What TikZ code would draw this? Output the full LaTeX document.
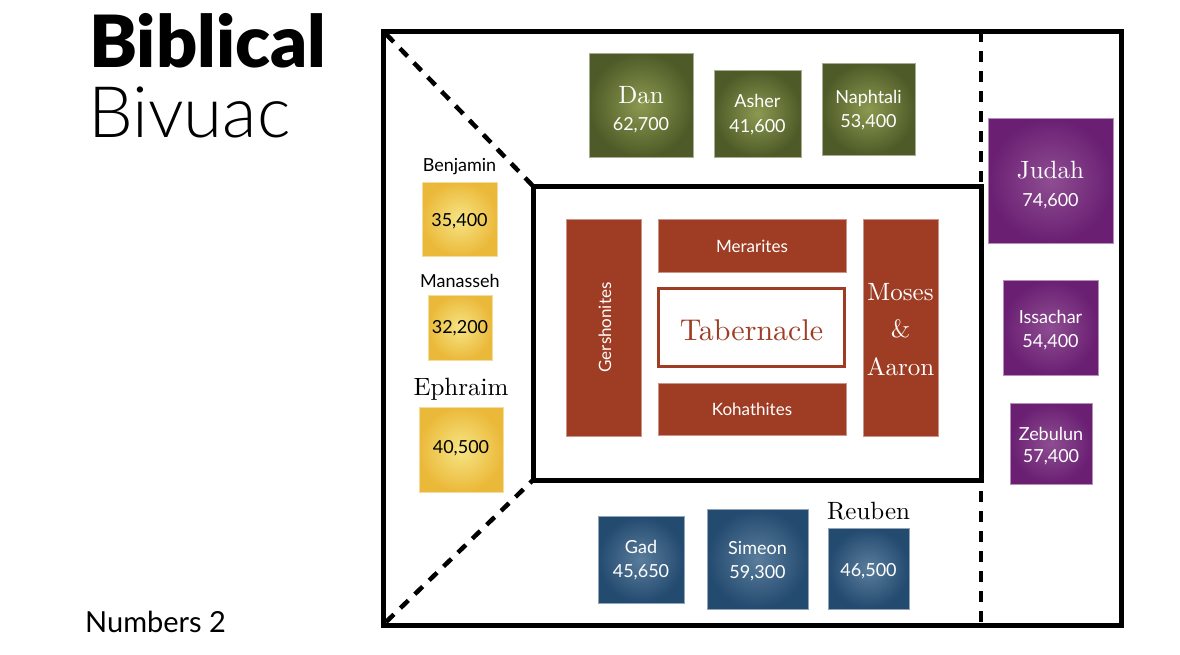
\documentclass[tikz,border=0pt]{standalone}
\usepackage{fontspec}
\newfontfamily\lato{Lato}
\newfontfamily\latoblack{Lato Black}
\newfontfamily\latolight{Lato Light}
\newfontfamily\cmten{lmroman10-regular}[Extension=.otf]
\definecolor{greenin}{HTML}{8A9A50}
\definecolor{greenout}{HTML}{4E5B28}
\definecolor{purplein}{HTML}{8E4E92}
\definecolor{purpleout}{HTML}{6A1F72}
\definecolor{bluein}{HTML}{5A7D9C}
\definecolor{blueout}{HTML}{234A6F}
\definecolor{yellowin}{HTML}{F6E585}
\definecolor{yellowout}{HTML}{EBB93A}
\definecolor{levbrown}{HTML}{9E3D24}
\begin{document}
\begin{tikzpicture}[x=1pt,y=-1pt,
  tribe/.style={shade, inner color=#1in, outer color=#1out, draw=#1out!50!white, line width=0.8pt, inner sep=0pt, outer sep=0pt},
  levite/.style={fill=levbrown, draw=levbrown!55!white, line width=0.8pt, inner sep=0pt, outer sep=0pt},
  wsans/.style={text=white, font=\lato\fontsize{18}{20}\selectfont, anchor=base, inner sep=0pt},
  bsans/.style={text=black, font=\lato\fontsize{18}{20}\selectfont, anchor=base, inner sep=0pt},
  wser/.style={text=white, font=\cmten\fontsize{25}{28}\selectfont, anchor=base, inner sep=0pt},
  bser/.style={text=black, font=\cmten\fontsize{25}{28}\selectfont, anchor=base, inner sep=0pt},
  frameline/.style={line width=5pt, draw=black},
  dashline/.style={line width=4.5pt, draw=black, dash pattern=on 11pt off 9pt}
]
\useasboundingbox (0,0) rectangle (1180,654);

% title
\node[anchor=base west, inner sep=0pt, font=\latoblack\fontsize{72}{74}\selectfont] (title1) at (89,67) {Biblical};
\node[anchor=base west, inner sep=0pt, font=\latolight\fontsize{71}{74}\selectfont] (title2) at (88,137) {Bivuac};
\node[anchor=base west, inner sep=0pt, font=\lato\fontsize{29}{30}\selectfont] (ref) at (85,632) {Numbers 2};

% frame coordinates
\coordinate (oTL) at (383,31);
\coordinate (oBR) at (1121,625);
\coordinate (oBL) at (383,625);
\coordinate (iTL) at (533,186);
\coordinate (iBR) at (981,480);
\coordinate (iBL) at (533,480);
\coordinate (vT) at (981,31);
\coordinate (vB) at (981,625);

\draw[frameline] (oTL) rectangle (oBR);
\draw[frameline] (iTL) rectangle (iBR);
\draw[dashline] ([shift={(3,3)}]oTL) -- (iTL);
\draw[dashline] ([shift={(3,-3)}]oBL) -- (iBL);
\draw[dashline] (vT) -- (vB);

% north: Dan
\node[tribe=green, minimum width=104pt, minimum height=104pt] (dan) at (641,105) {};
\node[wser] (danN) at (641,103) {Dan};
\node[wsans] (danV) at (641,130) {62,700};
\node[tribe=green, minimum width=87pt, minimum height=87pt] (asher) at (757.5,113.5) {};
\node[wsans] (asherN) at (757.5,107) {Asher};
\node[wsans] (asherV) at (757.5,132) {41,600};
\node[tribe=green, minimum width=93pt, minimum height=92pt] (naph) at (868.5,109) {};
\node[wsans] (naphN) at (868.5,103) {Naphtali};
\node[wsans] (naphV) at (868.5,127) {53,400};

% east: Judah
\node[tribe=purple, minimum width=125pt, minimum height=125pt] (judah) at (1050.5,180.5) {};
\node[wser] (judahN) at (1050.5,178) {Judah};
\node[wsans] (judahV) at (1050.5,206) {74,600};
\node[tribe=purple, minimum width=95pt, minimum height=95pt] (issa) at (1050.5,327.5) {};
\node[wsans] (issaN) at (1050.5,323) {Issachar};
\node[wsans] (issaV) at (1050.5,347) {54,400};
\node[tribe=purple, minimum width=82pt, minimum height=81pt] (zeb) at (1051,443.5) {};
\node[wsans] (zebN) at (1051,440) {Zebulun};
\node[wsans] (zebV) at (1051,462) {57,400};

% west: Ephraim
\node[bsans] (benN) at (459.5,171) {Benjamin};
\node[tribe=yellow, minimum width=75pt, minimum height=74pt] (ben) at (459.5,219) {};
\node[bsans] (benV) at (459.5,226) {35,400};
\node[bsans] (manN) at (460,287) {Manasseh};
\node[tribe=yellow, minimum width=64pt, minimum height=65pt] (man) at (460,327.5) {};
\node[bsans] (manV) at (460,333) {32,200};
\node[bser] (ephN) at (461,395) {Ephraim};
\node[tribe=yellow, minimum width=84pt, minimum height=85pt] (eph) at (461,449.5) {};
\node[bsans] (ephV) at (461,453) {40,500};

% south: Reuben
\node[tribe=blue, minimum width=86pt, minimum height=87pt] (gad) at (641,559.5) {};
\node[wsans] (gadN) at (641,553) {Gad};
\node[wsans] (gadV) at (641,577) {45,650};
\node[tribe=blue, minimum width=101pt, minimum height=100pt] (sim) at (757.5,559) {};
\node[wsans] (simN) at (757.5,554) {Simeon};
\node[wsans] (simV) at (757.5,578) {59,300};
\node[bser] (reuN) at (868.5,519) {Reuben};
\node[tribe=blue, minimum width=81pt, minimum height=81pt] (reu) at (868.5,568.5) {};
\node[wsans] (reuV) at (868.5,576) {46,500};

% levites and tabernacle
\node[levite, minimum width=75pt, minimum height=217pt] (gersh) at (603.5,327.5) {};
\node[wsans, font=\lato\fontsize{17}{20}\selectfont, rotate=90] (gershN) at (611,327.5) {Gershonites};
\node[levite, minimum width=188pt, minimum height=53pt] (merar) at (752,245.5) {};
\node[wsans, font=\lato\fontsize{17}{20}\selectfont] (merarN) at (752,252) {Merarites};
\node[fill=white, draw=levbrown, line width=2.5pt, minimum width=186pt, minimum height=78pt, inner sep=0pt] (tab) at (751.5,327.5) {};
\node[anchor=base, inner sep=0pt, text=levbrown, font=\cmten\fontsize{30}{33}\selectfont] (tabN) at (751.5,340) {Tabernacle};
\node[levite, minimum width=188pt, minimum height=52pt] (kohath) at (752,409) {};
\node[wsans, font=\lato\fontsize{17}{20}\selectfont] (kohathN) at (752,415) {Kohathites};
\node[levite, minimum width=75pt, minimum height=217pt] (moses) at (900.5,327.5) {};
\node[wser] (mosesN1) at (900.5,300) {Moses};
\node[wser] (mosesN2) at (900.5,337) {\&};
\node[wser] (mosesN3) at (900.5,375) {Aaron};
\end{tikzpicture}
\end{document}
